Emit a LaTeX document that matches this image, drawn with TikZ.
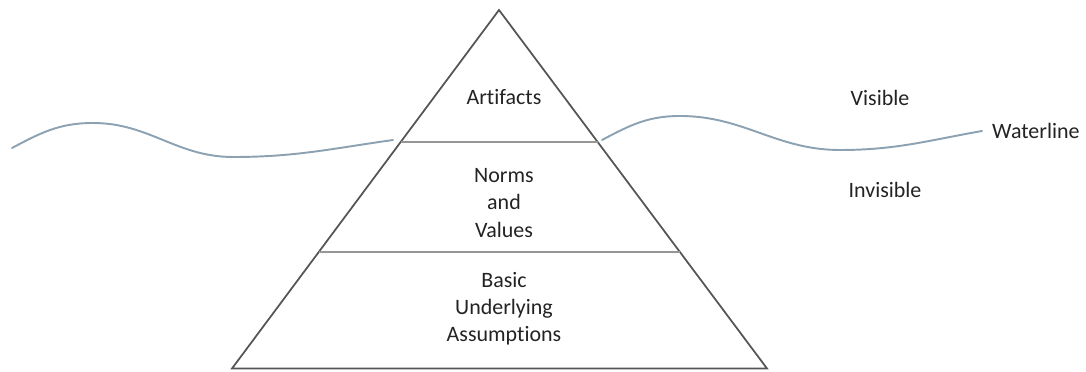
\documentclass[tikz,border=0pt]{standalone}
\usepackage{fontspec}
\setmainfont{Carlito}[Ligatures=NoCommon]
\usepackage{xcolor}
\usepackage{tikz}
\usetikzlibrary{positioning,calc}
\definecolor{edgegray}{RGB}{85,85,85}
\definecolor{tiergray}{RGB}{150,150,150}
\definecolor{waterblue}{RGB}{140,162,178}
\definecolor{textgray}{RGB}{35,35,35}

\begin{document}
\begin{tikzpicture}[
  label/.style = {align=center, text=textgray, font=\fontsize{12.5}{15.4}\selectfont},
  edge/.style  = {draw=edgegray, line width=1pt, line join=miter},
  tier/.style  = {draw=tiergray, line width=1pt},
  water/.style = {draw=waterblue, line width=1.1pt, line cap=round}
]
  \useasboundingbox (0,0) rectangle (21.72,7.42);

  % pyramid
  \coordinate (bl)   at (4.64,0.05);
  \coordinate (br)   at (15.34,0.05);
  \coordinate (apex) at (9.98,7.22);
  \draw[edge] (bl) -- (apex) -- (br) -- cycle;

  % tier boundaries
  \draw[tier] ($(bl)!0.632!(apex)$) -- ($(br)!0.632!(apex)$);
  \draw[tier] ($(bl)!0.324!(apex)$) -- ($(br)!0.324!(apex)$);

  \node[label] (artifacts) at (10.08,5.47) {Artifacts};
  \node[label] (norms)     at (10.08,3.36) {Norms\\and\\Values};
  \node[label] (basic)     at (10.08,1.24) {Basic\\Underlying\\Assumptions};

  % waterline, left and right of the pyramid
  \coordinate (wl) at (7.86,4.62);
  \coordinate (wr) at (12.04,4.62);
  \coordinate (we) at (19.64,4.80);
  \draw[water] (0.24,4.46) to[out=28,in=180] (1.86,4.96)
               to[out=0,in=180] (4.66,4.28) to[out=0,in=188] (wl);
  \draw[water] (wr) to[out=28,in=180] (13.60,5.10)
               to[out=0,in=180] (16.80,4.42) to[out=0,in=190] (we);

  \node[label, right=0.08cm of we] (waterline) {Waterline};
  \node[label] (visible)   at (17.60,5.46) {Visible};
  \node[label] (invisible) at (17.70,3.62) {Invisible};
\end{tikzpicture}
\end{document}
